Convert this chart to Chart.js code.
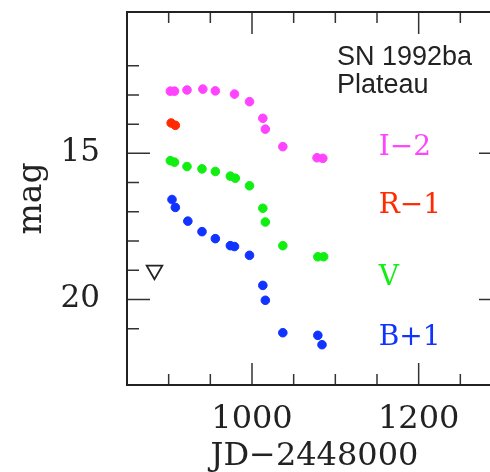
<!DOCTYPE html>
<html>
<head>
<meta charset="utf-8">
<script src="https://cdn.jsdelivr.net/npm/chart.js@4.4.1/dist/chart.umd.min.js"></script>
<style>
    html, body { margin: 0; padding: 0; overflow: hidden; background: #fff; }
    #wrap { width: 520px; height: 472px; }
</style>
</head>
<body>
<div id="wrap"><canvas id="lc"></canvas></div>
<script>
/* SN 1992ba light curve (plateau) */

// I-2
const iJD  = [902, 907, 922, 941, 956, 979, 997, 1013, 1016, 1037, 1078, 1085];
const iMag = [12.87, 12.87, 12.83, 12.80, 12.86, 12.97, 13.23, 13.80, 14.17, 14.77, 15.15, 15.17];
// R-1
const rJD  = [903, 908];
const rMag = [13.96, 14.04];
// V
const vJD  = [902, 907, 922, 940, 956, 974, 980, 997, 1013, 1016, 1037, 1079, 1086];
const vMag = [15.25, 15.30, 15.45, 15.53, 15.62, 15.78, 15.85, 16.11, 16.88, 17.35, 18.16, 18.54, 18.54];
// B+1
const bJD  = [904, 908, 923, 940, 956, 974, 979, 997, 1013, 1016, 1037, 1079, 1084];
const bMag = [16.58, 16.85, 17.32, 17.68, 17.92, 18.16, 18.19, 18.49, 19.52, 20.03, 21.14, 21.23, 21.55];
// upper limit
const ulJD  = [883];
const ulMag = [19.0];

const bandLabels = ['I\u22122', 'R\u22121', 'V', 'B+1'];
const bandColors = ['#ff44ff', '#ff2a00', '#11ee11', '#1133ff'];
const labelJD    = 1152;
const labelMag   = [15.06, 17.05, 19.51, 21.57];

const noteLines = ['SN 1992ba', 'Plateau'];
const noteJD    = 1102;
const noteMag   = [11.98, 12.95];

const xMin = 850, xMax = 1300, yMin = 10.16, yMax = 22.93;
const SERIF = '"DejaVu Serif", serif';

const pts = (xs, ys) => xs.map((x, i) => ({ x, y: ys[i] }));

function dotSet(xs, ys, color) {
    return { data: pts(xs, ys), backgroundColor: color, borderColor: color,
             borderWidth: 1, pointRadius: 4.3 };
}

// inward tick marks on all four sides + text annotations
const framePlugin = {
    id: 'frame',
    afterDraw(chart) {
        const { ctx, chartArea: a, scales: { x, y } } = chart;
        ctx.save();
        ctx.strokeStyle = '#333';
        ctx.lineWidth = 1.5;
        x.ticks.forEach(t => {
            if (t.value % 50 !== 0) return;
            const px = x.getPixelForValue(t.value);
            const len = t.value % 200 === 0 ? 22 : 11;
            ctx.beginPath();
            ctx.moveTo(px, a.bottom); ctx.lineTo(px, a.bottom - len);
            ctx.moveTo(px, a.top); ctx.lineTo(px, a.top + len);
            ctx.stroke();
        });
        y.ticks.forEach(t => {
            if (!Number.isInteger(t.value)) return;
            const py = y.getPixelForValue(t.value);
            const len = t.value % 5 === 0 ? 23 : 12;
            ctx.beginPath();
            ctx.moveTo(a.left, py); ctx.lineTo(a.left + len, py);
            ctx.moveTo(a.right, py); ctx.lineTo(a.right - len, py);
            ctx.stroke();
        });
        ctx.strokeStyle = '#222';
        ctx.lineWidth = 2;
        ctx.strokeRect(a.left, a.top, a.right - a.left, a.bottom - a.top);

        ctx.textAlign = 'left';
        ctx.textBaseline = 'alphabetic';
        ctx.font = '28px ' + SERIF;
        bandLabels.forEach((txt, i) => {
            ctx.fillStyle = bandColors[i];
            ctx.fillText(txt, x.getPixelForValue(labelJD), y.getPixelForValue(labelMag[i]));
        });
        ctx.font = '27px "Liberation Sans", Arial, sans-serif';
        ctx.fillStyle = '#222';
        noteLines.forEach((txt, i) => {
            ctx.fillText(txt, x.getPixelForValue(noteJD), y.getPixelForValue(noteMag[i]));
        });
        ctx.restore();
    }
};

new Chart(document.getElementById('lc'), {
    type: 'scatter',
    data: {
        datasets: [
            dotSet(iJD, iMag, bandColors[0]),
            dotSet(rJD, rMag, bandColors[1]),
            dotSet(vJD, vMag, bandColors[2]),
            dotSet(bJD, bMag, bandColors[3]),
            { data: pts(ulJD, ulMag), pointStyle: 'triangle', rotation: 180, pointRadius: 9,
              backgroundColor: 'rgba(0,0,0,0)', borderColor: '#222', borderWidth: 1.8 }
        ]
    },
    options: {
        responsive: true, maintainAspectRatio: false, animation: false, events: [],
        layout: { padding: { left: 0, top: 12, right: 18, bottom: 0 } },
        plugins: { legend: { display: false }, tooltip: { enabled: false } },
        scales: {
            x: {
                type: 'linear', min: xMin, max: xMax,
                grid: { display: false }, border: { display: false },
                ticks: { stepSize: 50, autoSkip: false, maxRotation: 0, padding: 7,
                         color: '#222', font: { family: SERIF, size: 32 },
                         callback: v => (v % 200 === 0 ? String(v) : '') },
                title: { display: true, text: 'JD\u22122448000', color: '#222',
                         font: { family: SERIF, size: 32, lineHeight: 0.75 }, padding: { top: 0, bottom: 3 } },
                afterFit: s => { s.height = 87; s.paddingLeft = 0; s.paddingRight = 0; }
            },
            y: {
                type: 'linear', min: yMin, max: yMax, reverse: true,
                grid: { display: false }, border: { display: false },
                ticks: { stepSize: 1, autoSkip: false, padding: 19,
                         color: '#222', font: { family: SERIF, size: 31 },
                         callback: v => (Number.isInteger(v) && v % 5 === 0 ? String(v) : '') },
                title: { display: true, text: 'mag', color: '#222',
                         font: { family: SERIF, size: 33 }, padding: { top: 13, bottom: 0 } },
                afterFit: s => { s.width = 127; s.paddingTop = 0; s.paddingBottom = 0; }
            }
        }
    },
    plugins: [framePlugin]
});
</script>
</body>
</html>
